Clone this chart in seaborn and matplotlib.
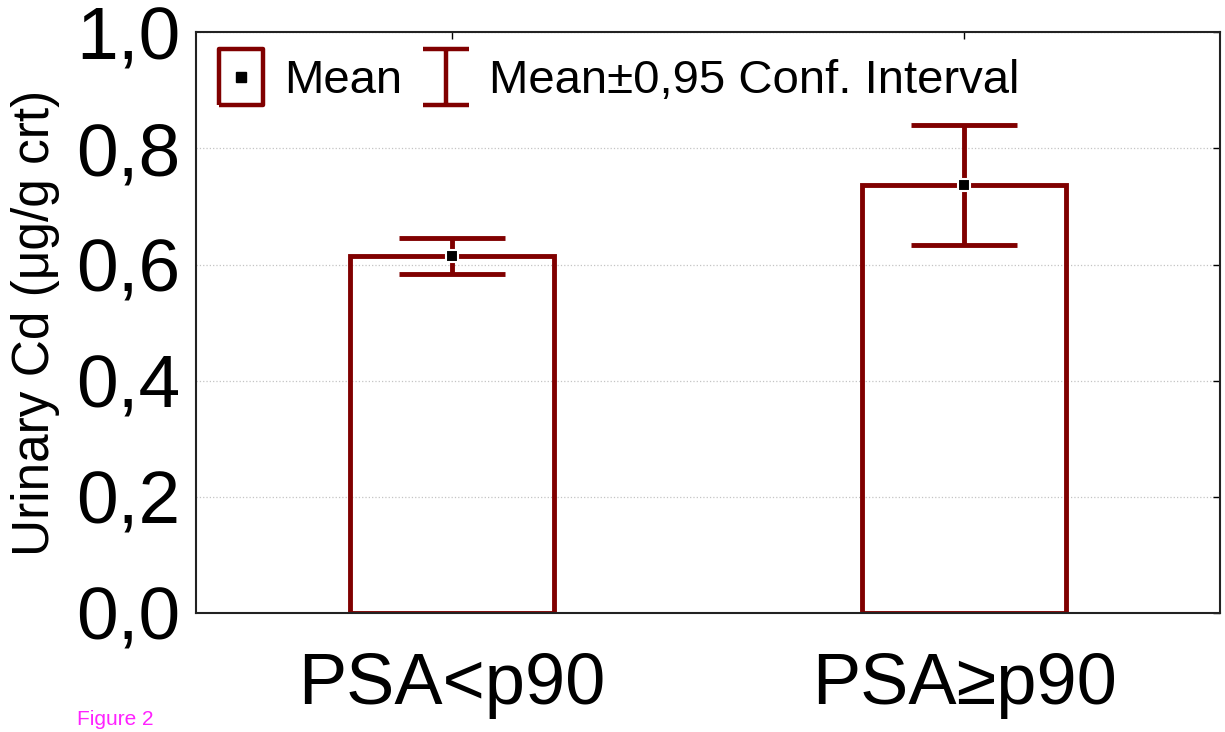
import numpy as np
import pandas as pd
import matplotlib
matplotlib.use("Agg")
import matplotlib.pyplot as plt
import seaborn as sns
from matplotlib.lines import Line2D
from matplotlib.path import Path
from matplotlib.legend_handler import HandlerTuple
from matplotlib.ticker import FuncFormatter

# data
groups = ["PSA<p90", "PSA\u2265p90"]
means = [0.615, 0.737]
ci_low = [0.583, 0.633]
ci_high = [0.645, 0.840]
y_ticks = [0.0, 0.2, 0.4, 0.6, 0.8, 1.0]

sns.set_style("white")
plt.rcParams['font.family'] = ['Liberation Sans', 'DejaVu Sans']
plt.rcParams['text.color'] = "black"

red = "#800000"
df = pd.DataFrame({"group": groups, "mean": means})

fig = plt.figure(figsize=(12.25, 7.32), dpi=100)
ax = fig.add_axes([0.16, 0.1626, 0.836, 0.7934])

sns.barplot(data=df, x="group", y="mean", ax=ax, errorbar=None, fill=False,
            edgecolor=red, linewidth=3.5, width=0.4)
x = np.arange(len(groups))
yerr = [np.array(means) - np.array(ci_low), np.array(ci_high) - np.array(means)]
ax.errorbar(x, means, yerr=yerr, fmt="none", ecolor=red, elinewidth=3.5,
            capsize=38, capthick=3.5, zorder=3)
ax.plot(x, means, "s", color="black", markersize=8, markeredgecolor="white",
        markeredgewidth=1.5, zorder=4)

ax.set_xlim(-0.5, 1.5)
ax.set_ylim(0, 1.0)
ax.set_yticks(y_ticks)
ax.yaxis.set_major_formatter(FuncFormatter(lambda v, p: f"{v:.1f}".replace(".", ",")))
ax.grid(axis="y", color="#c4c4c4", linestyle=":", linewidth=0.9)
ax.set_axisbelow(True)
for s in ax.spines.values():
    s.set_color("#222222")
    s.set_linewidth(1.5)
ax.tick_params(direction="in", length=5, width=1, top=True, right=True,
               labelsize=54, colors="black", labelcolor="black", pad=11)
ax.tick_params(axis="x", labelsize=52, pad=28)
ax.set_xlabel("")
ax.set_ylabel("Urinary Cd (\u03bcg/g crt)", fontsize=37, color="black")
ax.yaxis.set_label_coords(-0.133, 0.5)

# legend handles
rect = Path([(-0.8, -1), (0.8, -1), (0.8, 1), (-0.8, 1), (-0.8, -1)])
ibar = Path([(-0.82, 1), (0.82, 1), (0, 1), (0, -1), (-0.82, -1), (0.82, -1)],
            [Path.MOVETO, Path.LINETO, Path.MOVETO, Path.LINETO, Path.MOVETO, Path.LINETO])
h_box = Line2D([], [], marker=rect, linestyle="none", markersize=40,
               markerfacecolor="white", markeredgecolor=red, markeredgewidth=3.2)
h_dot = Line2D([], [], marker="s", linestyle="none", markersize=7, color="black")
h_ci = Line2D([], [], marker=ibar, linestyle="none", markersize=40,
              markerfacecolor="none", markeredgecolor=red, markeredgewidth=3.2)
leg = ax.legend([(h_box, h_dot), h_ci], ["Mean", "Mean\u00b10,95 Conf. Interval"],
                handler_map={tuple: HandlerTuple(ndivide=1, pad=0)},
                loc="upper left", ncol=2, frameon=False, fontsize=34,
                handlelength=1.0, handletextpad=0.42, columnspacing=0.42,
                borderaxespad=0.05, bbox_to_anchor=(0.0, 0.99))
for t in leg.get_texts():
    t.set_color("black")

fig.text(0.063, 0.01, "Figure 2", color="#ff22ff", fontsize=15, va="baseline",
         family=["Liberation Sans", "DejaVu Sans"])

fig.savefig("out.png", dpi=100)
